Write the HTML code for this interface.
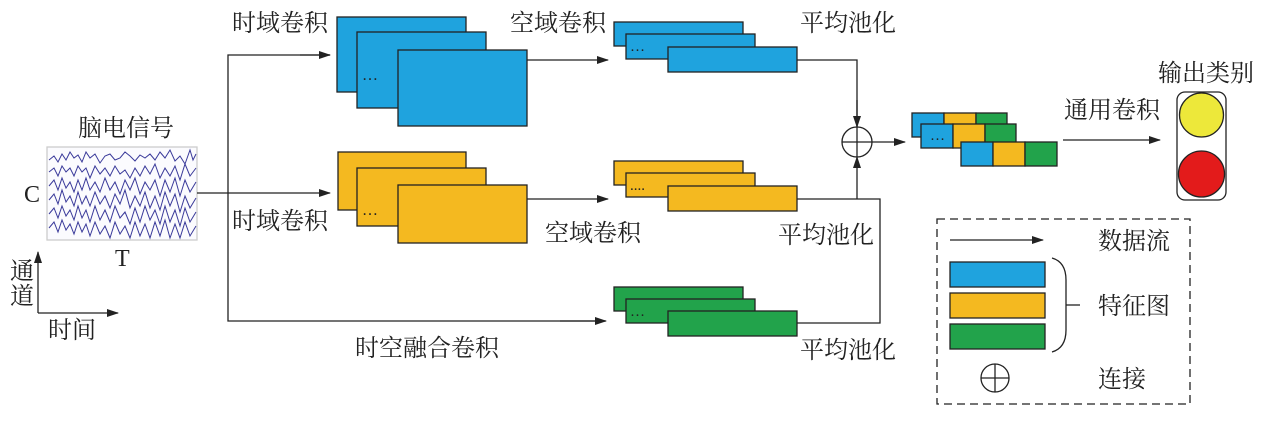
<!DOCTYPE html>
<html><head><meta charset="utf-8"><style>
html,body{margin:0;padding:0;background:#fff;}
svg{display:block;}
text{font-family:"Liberation Serif","Noto Serif CJK SC","Noto Sans CJK SC",serif;font-size:24px;fill:#222;}
</style></head><body>
<svg width="1269" height="421" viewBox="0 0 1269 421" xmlns="http://www.w3.org/2000/svg">
<defs>
<marker id="a" markerWidth="12" markerHeight="8" refX="11" refY="4" orient="auto" markerUnits="userSpaceOnUse">
<path d="M0,0 L12,4 L0,8 z" fill="#222"/></marker>
</defs>
<g stroke="#222" stroke-width="1.3" fill="none">
<rect x="47" y="147" width="150" height="93" fill="#fbfbfe" stroke="#ccc"/>
</g>
<g stroke="#3a3a9a" stroke-width="1" fill="none">
<polyline points="49,160 54,156 58,162 62,154 66,160 70,152 74,158 78,155 82,162 86,152 90,158 95,154 100,163 105,156 110,154 115,160 120,158 125,152 130,156 135,161 140,155 145,158 150,154 155,160 160,152 165,158 170,150 175,161 180,156 185,164 190,150 193,160 196,154"/>
<polyline points="49,172 54,168 58,176 62,166 66,172 70,168 74,176 78,166 82,172 86,168 90,178 95,166 100,174 105,168 110,176 115,166 120,174 125,170 130,178 135,168 140,176 145,166 150,174 155,164 160,178 165,168 170,176 175,166 180,180 185,164 190,176 196,168"/>
<polyline points="49,186 54,180 58,190 62,178 66,188 70,182 74,192 78,180 82,190 86,178 90,190 95,182 100,192 105,178 110,190 115,182 120,194 125,180 130,190 135,178 140,194 145,182 150,190 155,180 160,196 165,180 170,192 175,178 180,196 185,180 190,192 196,182"/>
<polyline points="49,200 54,194 58,204 62,190 66,202 70,196 74,206 78,192 82,204 86,196 90,206 95,192 100,204 105,196 110,208 115,194 120,204 125,190 130,208 135,196 140,206 145,192 150,208 155,196 160,210 165,192 170,206 175,194 180,212 185,196 190,208 196,198"/>
<polyline points="49,214 54,208 58,218 62,206 66,216 70,210 74,220 78,206 82,218 86,210 90,222 95,206 100,220 105,210 110,222 115,206 120,218 125,212 130,224 135,208 140,222 145,206 150,220 155,210 160,224 165,206 170,222 175,210 180,226 185,208 190,222 196,212"/>
<polyline points="49,228 54,222 58,232 62,220 66,230 70,224 74,234 78,222 82,232 86,224 90,236 95,222 100,234 105,226 110,238 115,222 120,234 125,226 130,238 135,222 140,236 145,224 150,238 155,222 160,236 165,220 170,238 175,224 180,238 185,222 190,236 196,226"/>
</g>
<g stroke="#222" stroke-width="1.3" fill="none">
<line x1="38" y1="313" x2="38" y2="252" marker-end="url(#a)"/>
<line x1="38" y1="313" x2="118" y2="313" marker-end="url(#a)"/>
<line x1="197" y1="193" x2="330" y2="193" marker-end="url(#a)"/>
<polyline points="330,55 228,55 228,321 605,321" />
<line x1="300" y1="55" x2="330" y2="55" marker-end="url(#a)"/>
<line x1="560" y1="321" x2="606" y2="321" marker-end="url(#a)"/>
<line x1="527" y1="60" x2="608" y2="60" marker-end="url(#a)"/>
<line x1="527" y1="199" x2="608" y2="199" marker-end="url(#a)"/>
<polyline points="797,60 857,60 857,127"/>
<line x1="857" y1="100" x2="857" y2="127" marker-end="url(#a)"/>
<polyline points="797,199 880,199 880,323 797,323"/>
<line x1="857" y1="199" x2="857" y2="157" marker-end="url(#a)"/>
<circle cx="857" cy="142" r="15"/>
<line x1="842" y1="142" x2="872" y2="142"/><line x1="857" y1="127" x2="857" y2="157"/>
<line x1="872" y1="142" x2="905" y2="142" marker-end="url(#a)"/>
<line x1="1063" y1="140" x2="1160" y2="140" marker-end="url(#a)"/>
</g>
<g stroke="#222" stroke-width="1.3">
<rect x="337" y="17" width="129" height="75" fill="#1fa3de"/>
<rect x="357" y="32" width="129" height="76" fill="#1fa3de"/>
<rect x="398" y="50" width="129" height="76" fill="#1fa3de"/>
<rect x="338" y="152" width="128" height="58" fill="#f4b920"/>
<rect x="357" y="168" width="129" height="58" fill="#f4b920"/>
<rect x="398" y="185" width="129" height="58" fill="#f4b920"/>
<rect x="614" y="22" width="129" height="24" fill="#1fa3de"/>
<rect x="626" y="34" width="129" height="25" fill="#1fa3de"/>
<rect x="668" y="47" width="129" height="25" fill="#1fa3de"/>
<rect x="614" y="161" width="129" height="24" fill="#f4b920"/>
<rect x="626" y="173" width="129" height="24" fill="#f4b920"/>
<rect x="668" y="186" width="129" height="25" fill="#f4b920"/>
<rect x="614" y="287" width="129" height="24" fill="#22a34b"/>
<rect x="626" y="299" width="129" height="24" fill="#22a34b"/>
<rect x="668" y="311" width="129" height="25" fill="#22a34b"/>
</g>
<g stroke="#222" stroke-width="1.3">
<rect x="912" y="113" width="32" height="24" fill="#1fa3de"/><rect x="944" y="113" width="32" height="24" fill="#f4b920"/><rect x="976" y="113" width="31" height="24" fill="#22a34b"/>
<rect x="921" y="124" width="32" height="24" fill="#1fa3de"/><rect x="953" y="124" width="32" height="24" fill="#f4b920"/><rect x="985" y="124" width="31" height="24" fill="#22a34b"/>
<rect x="961" y="142" width="32" height="24" fill="#1fa3de"/><rect x="993" y="142" width="32" height="24" fill="#f4b920"/><rect x="1025" y="142" width="32" height="24" fill="#22a34b"/>
<rect x="1177" y="92" width="49" height="108" rx="8" fill="#fff"/>
<circle cx="1201.5" cy="115" r="22" fill="#ede83a"/>
<circle cx="1201.5" cy="174" r="23" fill="#e31b1b"/>
</g>
<text x="362" y="80" style="font-size:16px">…</text>
<text x="362" y="215" style="font-size:16px">…</text>
<text x="630" y="51" style="font-size:15px">…</text>
<text x="630" y="190" style="font-size:15px">....</text>
<text x="630" y="316" style="font-size:15px">…</text>
<text x="930" y="140" style="font-size:15px">…</text>
<g stroke="#222" stroke-width="1.3" fill="none">
<rect x="937" y="219" width="253" height="185" stroke-dasharray="8,5"/>
<line x1="950" y1="240" x2="1043" y2="240" marker-end="url(#a)"/>
<rect x="950" y="262" width="95" height="25" fill="#1fa3de"/>
<rect x="950" y="293" width="95" height="25" fill="#f4b920"/>
<rect x="950" y="324" width="95" height="25" fill="#22a34b"/>
<path d="M1052,258 Q1066,262 1066,280 L1066,330 Q1066,348 1052,352"/>
<line x1="1066" y1="305" x2="1080" y2="305"/>
<circle cx="995" cy="378" r="14"/>
<line x1="981" y1="378" x2="1009" y2="378"/><line x1="995" y1="364" x2="995" y2="392"/>
</g>
<text x="232" y="31">时域卷积</text>
<text x="232" y="229">时域卷积</text>
<text x="510" y="31">空域卷积</text>
<text x="545" y="241">空域卷积</text>
<text x="800" y="31">平均池化</text>
<text x="778" y="243">平均池化</text>
<text x="800" y="358">平均池化</text>
<text x="355" y="356">时空融合卷积</text>
<text x="78" y="136">脑电信号</text>
<text x="24" y="202">C</text>
<text x="115" y="266">T</text>
<text x="10" y="279">通</text>
<text x="10" y="304">道</text>
<text x="48" y="338">时间</text>
<text x="1064" y="118">通用卷积</text>
<text x="1158" y="81">输出类别</text>
<text x="1098" y="249">数据流</text>
<text x="1098" y="314">特征图</text>
<text x="1098" y="387">连接</text>
</svg>
</body></html>
